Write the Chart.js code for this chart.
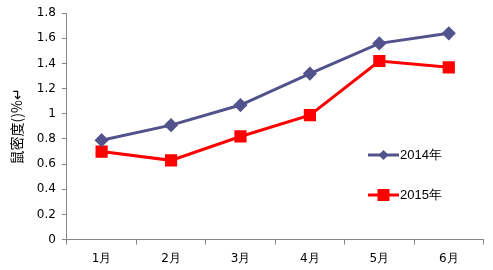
<!DOCTYPE html>
<html><head><meta charset="utf-8">
<script src="https://cdn.jsdelivr.net/npm/chart.js@4/dist/chart.umd.min.js"></script>
<style>html,body{margin:0;padding:0;background:#fff}#wrap{width:493px;height:270px}</style>
</head><body><div id="wrap"><canvas id="c" width="493" height="270"></canvas></div>
<script>
const categories = ['1月','2月','3月','4月','5月','6月'];
const series2014 = [0.79, 0.91, 1.07, 1.32, 1.56, 1.64];
const series2015 = [0.70, 0.63, 0.82, 0.99, 1.42, 1.37];
const seriesNames = ['2014年','2015年'];
const yTitle = '鼠密度()%↵';

const legendPlugin = {
  id: 'inLegend',
  afterDraw(chart) {
    const ctx = chart.ctx;
    const items = [{y:155, ds:chart.data.datasets[0]}, {y:195, ds:chart.data.datasets[1]}];
    items.forEach(it => {
      const ds = it.ds;
      ctx.save();
      ctx.strokeStyle = ds.borderColor; ctx.lineWidth = 3;
      ctx.beginPath(); ctx.moveTo(368, it.y); ctx.lineTo(399, it.y); ctx.stroke();
      ctx.fillStyle = ds.pointBackgroundColor;
      const cx = 383.5;
      if (ds.pointStyle === 'rectRot') {
        const r = 5;
        ctx.beginPath(); ctx.moveTo(cx, it.y - r); ctx.lineTo(cx + r, it.y); ctx.lineTo(cx, it.y + r); ctx.lineTo(cx - r, it.y); ctx.closePath(); ctx.fill();
      } else {
        ctx.fillRect(cx - 6, it.y - 6, 12, 12);
      }
      ctx.fillStyle = '#000';
      ctx.font = '13px "Liberation Sans", sans-serif';
      ctx.textBaseline = 'middle';
      ctx.fillText(ds.label, 400, it.y);
      ctx.restore();
    });
  }
};

new Chart(document.getElementById('c'), {
  type: 'line',
  data: {
    labels: categories,
    datasets: [
      {label: seriesNames[0], data: series2014, borderColor: '#52528C', backgroundColor: '#52528C', pointBackgroundColor: '#52528C', pointBorderColor: '#52528C', pointStyle: 'rectRot', pointRadius: 5, borderWidth: 3, tension: 0},
      {label: seriesNames[1], data: series2015, borderColor: '#FF0000', backgroundColor: '#FF0000', pointBackgroundColor: '#FF0000', pointBorderColor: '#FF0000', pointStyle: 'rect', pointRadius: 6.5, borderWidth: 3, tension: 0}
    ]
  },
  options: {
    responsive: false, animation: false,
    layout: {padding: {left: 8, right: 8, top: 6, bottom: -3}},
    plugins: {legend: {display: false}, tooltip: {enabled: false}},
    scales: {
      x: {
        offset: true,
        grid: {offset: true, drawOnChartArea: false, color: '#868686', tickLength: 5, tickColor: '#868686'},
        border: {color: '#868686', width: 1},
        ticks: {color: '#000', font: {family: 'Tahoma, "DejaVu Sans", sans-serif', size: 12}, padding: 7}
      },
      y: {
        min: 0, max: 1.8,
        grid: {drawOnChartArea: false, color: '#868686', tickLength: 5, tickColor: '#868686'},
        border: {color: '#868686', width: 1},
        ticks: {stepSize: 0.2, color: '#000', font: {family: 'Tahoma, "DejaVu Sans", sans-serif', size: 12}, padding: 6,
          callback: v => String(parseFloat(Number(v).toFixed(1)))},
        title: {display: true, text: yTitle, color: '#000', font: {family: '"Noto Sans CJK SC", sans-serif', size: 14}, padding: {top: 0, bottom: 6}}
      }
    }
  },
  plugins: [legendPlugin]
});
</script></body></html>
